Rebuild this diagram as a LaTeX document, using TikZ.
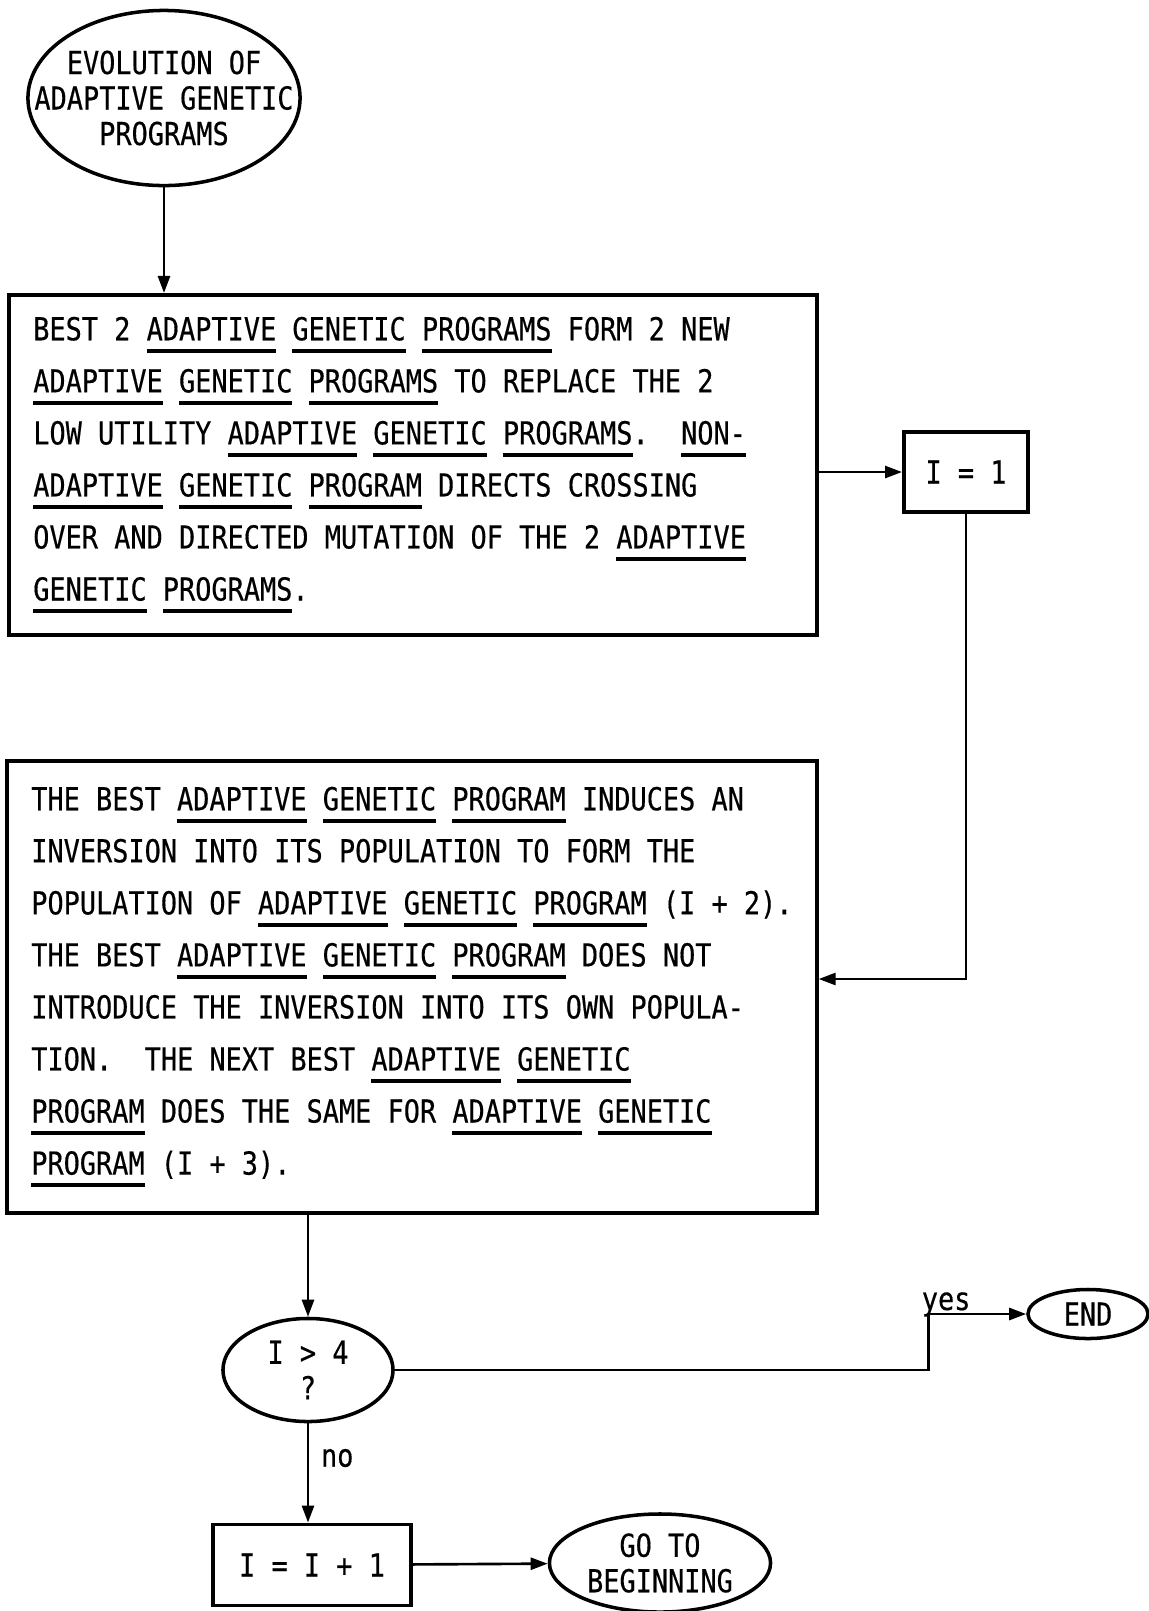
\documentclass[tikz,border=0pt]{standalone}
\usepackage{fontspec}
\usepackage{tikz}
\usetikzlibrary{positioning, arrows.meta, shapes.geometric}
\newfontfamily\typer[FakeStretch=0.85, FakeBold=0.4]{DejaVu Sans Mono}
\newcommand{\ulw}[1]{\leavevmode\setbox0=\hbox{#1}\rlap{\rule[-3.6pt]{\wd0}{1.1pt}}\box0\relax}
\newcommand{\fixspace}{\spaceskip=\fontdimen2\font\relax\xspaceskip=\fontdimen2\font\relax}

\begin{document}
\begin{tikzpicture}[
    x=0.01cm, y=-0.01cm,
    box/.style={draw, rectangle, line width=1.1pt, align=left, inner xsep=0.24cm, font=\typer\fontsize{9}{14.8}\selectfont, execute at begin node=\fixspace},
    oval/.style={draw, ellipse, line width=1pt, inner xsep=-1cm, inner ysep=0pt, align=center, font=\typer\fontsize{9}{10.1}\selectfont},
    arrow/.style={-{Triangle[length=0.17cm, width=0.12cm]}, line width=0.75pt}
]
    \useasboundingbox (0,0) rectangle (1149,1611);

    \node[oval, minimum width=2.72cm, minimum height=1.75cm] (evol) at (164,98) {EVOLUTION OF\\ADAPTIVE GENETIC\\PROGRAMS};
    \node[box, text width=7.59cm, minimum height=3.4cm] (cross) at (413,465) {BEST 2 \ulw{ADAPTIVE} \ulw{GENETIC} \ulw{PROGRAMS} FORM 2 NEW\\
        \ulw{ADAPTIVE} \ulw{GENETIC} \ulw{PROGRAMS} TO REPLACE THE 2\\
        LOW UTILITY \ulw{ADAPTIVE} \ulw{GENETIC} \ulw{PROGRAMS}.~~\ulw{NON-}\\
        \ulw{ADAPTIVE} \ulw{GENETIC} \ulw{PROGRAM} DIRECTS CROSSING\\
        OVER AND DIRECTED MUTATION OF THE 2 \ulw{ADAPTIVE}\\
        \ulw{GENETIC} \ulw{PROGRAMS}.};
    \node[box, align=center, inner xsep=0pt, minimum width=1.24cm, minimum height=0.8cm] (init) at (966,472) {I = 1};
    \node[box, text width=7.61cm, minimum height=4.51cm] (invert) at (412,987) {THE BEST \ulw{ADAPTIVE} \ulw{GENETIC} \ulw{PROGRAM} INDUCES AN\\
        INVERSION INTO ITS POPULATION TO FORM THE\\
        POPULATION OF \ulw{ADAPTIVE} \ulw{GENETIC} \ulw{PROGRAM} (I + 2).\\
        THE BEST \ulw{ADAPTIVE} \ulw{GENETIC} \ulw{PROGRAM} DOES NOT\\
        INTRODUCE THE INVERSION INTO ITS OWN POPULA-\\
        TION.~~THE NEXT BEST \ulw{ADAPTIVE} \ulw{GENETIC}\\
        \ulw{PROGRAM} DOES THE SAME FOR \ulw{ADAPTIVE} \ulw{GENETIC}\\
        \ulw{PROGRAM} (I + 3).};
    \node[oval, minimum width=1.7cm, minimum height=1.03cm] (test) at (308,1370) {I > 4\\?};
    \node[oval, minimum width=1.2cm, minimum height=0.49cm] (stop) at (1088,1314) {END};
    \node[box, align=center, inner xsep=0pt, minimum width=1.98cm, minimum height=0.81cm] (incr) at (312,1565) {I = I + 1};
    \node[oval, minimum width=2.21cm, minimum height=0.98cm] (goto) at (660,1563) {GO TO\\BEGINNING};

    \draw[arrow] (evol.south) -- (evol.south |- cross.north);
    \draw[arrow] (cross.east |- init.west) -- (init.west);
    \draw[arrow] (init) |- ([yshift=0.08cm]invert.east);
    \draw[arrow] (invert.south -| test.north) -- (test.north);
    \draw[arrow] (test.east) -- ++(534,0) |- node[pos=0.5, anchor=base west, xshift=-0.2cm, yshift=0.04cm, font=\typer\fontsize{9}{10}\selectfont] (yeslbl) {yes} (stop.west);
    \draw[arrow] (test.south) -- node[pos=0.35, right, font=\typer\fontsize{9}{10}\selectfont] (nolbl) {no} (test.south |- incr.north);
    \draw[arrow] (incr) -- (goto);
\end{tikzpicture}
\end{document}
